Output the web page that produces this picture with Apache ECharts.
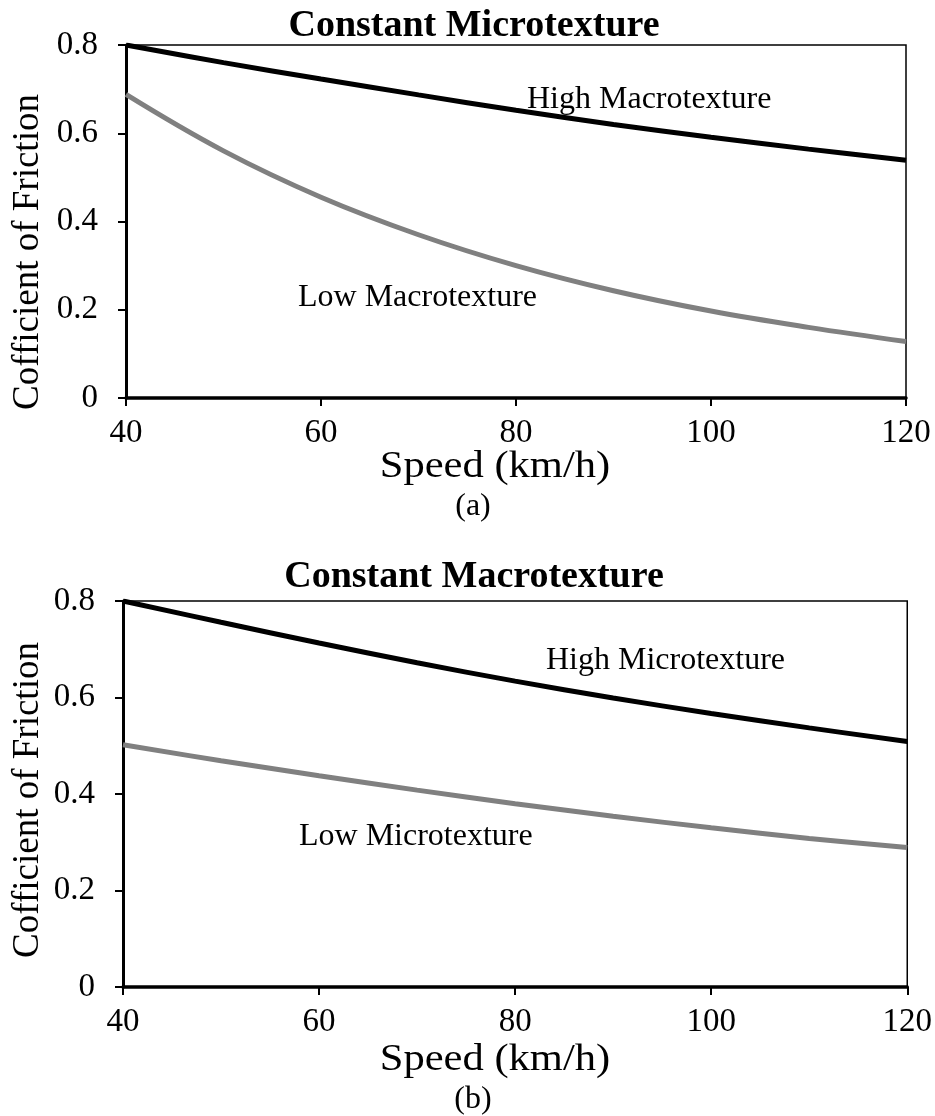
<!DOCTYPE html>
<html>
<head>
<meta charset="utf-8">
<script src="https://cdn.jsdelivr.net/npm/echarts@6/dist/echarts.min.js"></script>
<style>
html,body{margin:0;padding:0;background:#fff;}
#chart{width:935px;height:1116px;}
</style>
</head>
<body>
<div id="chart"></div>
<script>
// ---- data ----
const speeds = [40, 50, 60, 70, 80, 90, 100, 110, 120];
// (a) Constant Microtexture
const highMacro = [0.800, 0.760, 0.723, 0.687, 0.652, 0.620, 0.591, 0.564, 0.539];
const lowMacro  = [0.688, 0.560, 0.455, 0.370, 0.300, 0.243, 0.197, 0.160, 0.128];
// (b) Constant Macrotexture
const highMicro = [0.800, 0.756, 0.713, 0.672, 0.634, 0.599, 0.567, 0.537, 0.509];
const lowMicro  = [0.502, 0.469, 0.438, 0.408, 0.380, 0.354, 0.330, 0.308, 0.289];
const xTicks = [40, 60, 80, 100, 120];
const yTicks = [0, 0.2, 0.4, 0.6, 0.8];
const titles = ['Constant Microtexture', 'Constant Macrotexture'];
const captions = ['(a)', '(b)'];
const xTitle = 'Speed (km/h)';
const yTitle = 'Cofficient of Friction';
const seriesNames = [['High Macrotexture', 'Low Macrotexture'], ['High Microtexture', 'Low Microtexture']];

const FONT = '"Liberation Serif", "DejaVu Serif", serif';
const pairs = (vals) => speeds.map((s, i) => [s, vals[i]]);

const grids = [
  {left: 126, top: 45, width: 780, height: 353},
  {left: 123, top: 601, width: 787, height: 386}
];

function xAxis(gi) {
  return {
    type: 'value', gridIndex: gi, min: xTicks[0], max: xTicks[xTicks.length - 1], interval: 20,
    axisLine: {show: true, onZero: false, lineStyle: {color: '#000', width: 3.5}},
    axisTick: {show: true, inside: false, length: 8, lineStyle: {color: '#000', width: 2}},
    axisLabel: {color: '#000', fontFamily: FONT, fontSize: 33, margin: 19},
    splitLine: {show: false}
  };
}
function yAxis(gi) {
  return {
    type: 'value', gridIndex: gi, min: yTicks[0], max: yTicks[yTicks.length - 1], interval: 0.2,
    axisLine: {show: true, onZero: false, lineStyle: {color: '#000', width: 3}},
    axisTick: {show: true, inside: false, length: 8, lineStyle: {color: '#000', width: 2}},
    axisLabel: {color: '#000', fontFamily: FONT, fontSize: 33, margin: 28},
    splitLine: {show: false}
  };
}
function line(gi, name, vals, color) {
  return {
    type: 'line', name: name, xAxisIndex: gi, yAxisIndex: gi, data: pairs(vals),
    smooth: 0.4, showSymbol: false, symbol: 'none',
    lineStyle: {color: color, width: 5}, z: 3, silent: true
  };
}
function txt(text, x, y, size, opts) {
  opts = opts || {};
  const el = {
    type: 'text', x: x, y: y, silent: true,
    style: {text: text, fill: '#000', font: (opts.bold ? 'bold ' : '') + size + 'px ' + FONT,
            textAlign: opts.align || 'left', textVerticalAlign: 'middle'}
  };
  if (opts.rot) el.rotation = Math.PI / 2;
  if (opts.sx) el.scaleX = opts.sx;
  return el;
}

const option = {
  backgroundColor: '#fff',
  animation: false,
  grid: grids.map(g => Object.assign({show: true, borderColor: '#000', borderWidth: 1.5, backgroundColor: 'transparent'}, g)),
  xAxis: [xAxis(0), xAxis(1)],
  yAxis: [yAxis(0), yAxis(1)],
  series: [
    line(0, seriesNames[0][0], highMacro, '#000000'),
    line(0, seriesNames[0][1], lowMacro, '#808080'),
    line(1, seriesNames[1][0], highMicro, '#000000'),
    line(1, seriesNames[1][1], lowMicro, '#808080')
  ],
  graphic: [
    txt(titles[0], 474, 26, 38, {bold: true, align: 'center'}),
    txt(titles[1], 474, 577, 38, {bold: true, align: 'center'}),
    txt(seriesNames[0][0], 527, 100, 32),
    txt(seriesNames[0][1], 298, 298, 32),
    txt(seriesNames[1][0], 546, 661, 32),
    txt(seriesNames[1][1], 299, 837, 32),
    txt(xTitle, 495, 467, 37, {align: 'center', sx: 1.15}),
    txt(xTitle, 495, 1060, 37, {align: 'center', sx: 1.15}),
    txt(captions[0], 473, 507, 32, {align: 'center'}),
    txt(captions[1], 473, 1100, 32, {align: 'center'}),
    txt(yTitle, 28, 252, 37, {align: 'center', rot: true}),
    txt(yTitle, 28, 800, 37, {align: 'center', rot: true})
  ]
};
const chart = echarts.init(document.getElementById('chart'), null, {renderer: 'canvas'});
chart.setOption(option);
</script>
</body>
</html>
